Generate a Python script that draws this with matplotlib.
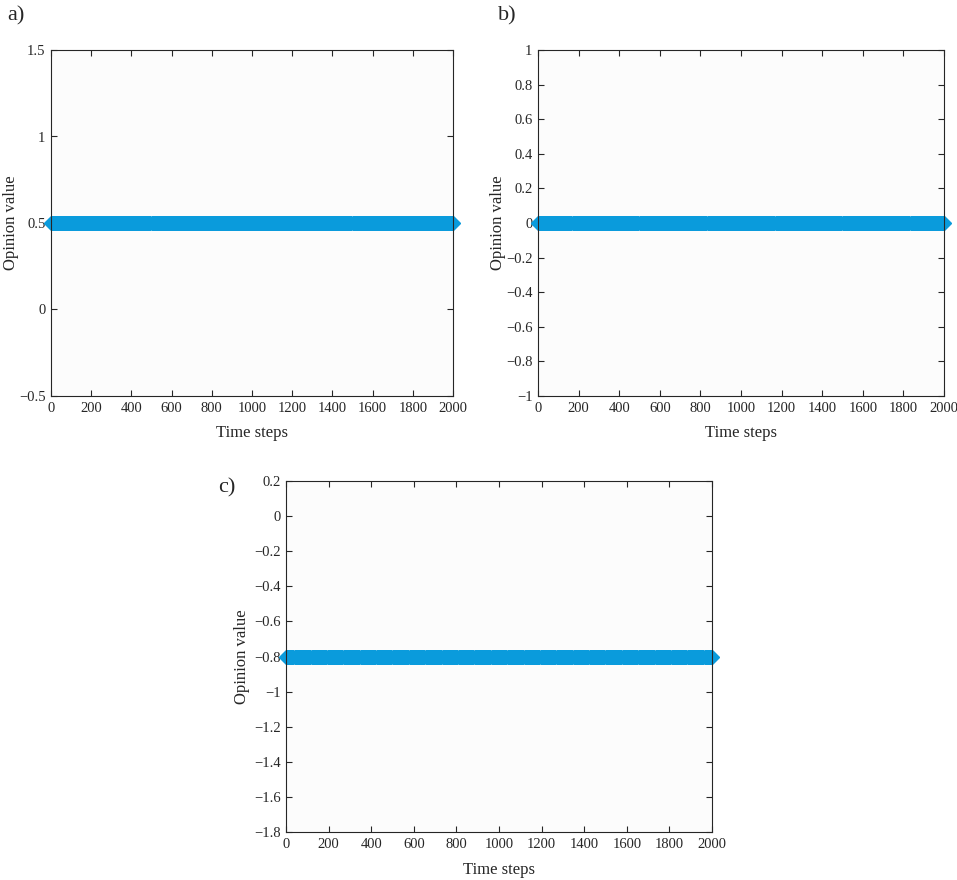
import numpy as np
from matplotlib import pyplot as plt

plt.rcParams['font.family'] = ['Liberation Serif', 'DejaVu Serif']
plt.rcParams['axes.unicode_minus'] = True

# data ------------------------------------------------------------
time_steps = np.arange(0, 2001, 5)
consensus = {'a)': 0.5, 'b)': 0.0, 'c)': -0.8}
ylims = {'a)': (-0.5, 1.5), 'b)': (-1, 1), 'c)': (-1.8, 0.2)}
yticks = {'a)': [-0.5, 0, 0.5, 1, 1.5],
          'b)': [-1, -0.8, -0.6, -0.4, -0.2, 0, 0.2, 0.4, 0.6, 0.8, 1],
          'c)': [-1.8, -1.6, -1.4, -1.2, -1, -0.8, -0.6, -0.4, -0.2, 0, 0.2]}
xticks = [0, 200, 400, 600, 800, 1000, 1200, 1400, 1600, 1800, 2000]

W, H = 957, 880
boxes = {'a)': (51, 50, 453, 396), 'b)': (538, 50, 944, 396), 'c)': (286, 481, 712, 832)}
tags = {'a)': (7, 16), 'b)': (498, 16), 'c)': (218, 488)}
ylab_x = {'a)': 11, 'b)': 498, 'c)': 242}
xlab_y = {'a)': 433, 'b)': 433, 'c)': 870}

fig = plt.figure(figsize=(W / 100, H / 100), dpi=100)

def fmt(v):
    s = ('%g' % v)
    return s.replace('-', '\u2212')

for key in ['a)', 'b)', 'c)']:
    l, t, r, b = boxes[key]
    ax = fig.add_axes([l / W, 1 - b / H, (r - l) / W, (b - t) / H])
    ax.set_facecolor('#fcfcfc')
    vals = np.full(len(time_steps), consensus[key])
    ax.plot(time_steps, vals, color='#0a9bdc', lw=8, marker='D', markersize=7,
            markeredgecolor='#0a9bdc', clip_on=False, solid_capstyle='butt')
    ax.set_xlim(0, 2000)
    ax.set_ylim(*ylims[key])
    ax.set_xticks(xticks)
    ax.set_xticklabels([fmt(x) for x in xticks])
    ax.set_yticks(yticks[key])
    ax.set_yticklabels([fmt(y) for y in yticks[key]])
    ax.tick_params(direction='in', top=True, right=True, length=4.5, width=0.8,
                   labelsize=10.5, colors='#262626', pad=4)
    for s in ax.spines.values():
        s.set_color('#262626')
        s.set_linewidth(0.8)
    ax.set_xlabel('Time steps', fontsize=12, color='#262626')
    ax.set_ylabel('Opinion value', fontsize=12, color='#262626')
    ax.xaxis.set_label_coords((l + r) / 2 / W, 1 - xlab_y[key] / H, transform=fig.transFigure)
    ax.yaxis.set_label_coords(ylab_x[key] / W, 1 - (t + b) / 2 / H, transform=fig.transFigure)
    ax.xaxis.label.set_va('center')
    ax.yaxis.label.set_va('center')
    fig.text(tags[key][0] / W, 1 - tags[key][1] / H, key, fontsize=16,
             va='center', ha='left', color='#262626')

plt.savefig('out.png', dpi=100)
